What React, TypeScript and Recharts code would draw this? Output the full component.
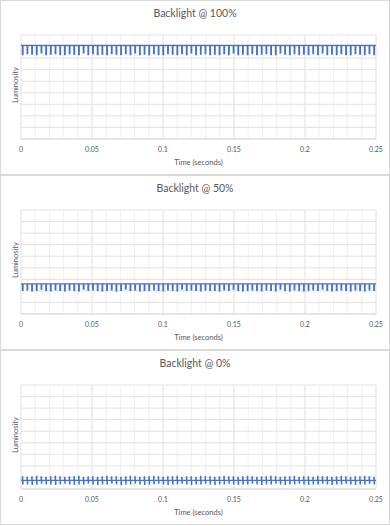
import React from "react";
import { LineChart, Line, XAxis, YAxis, CartesianGrid, ReferenceLine } from "recharts";

// sample times (seconds), shared by the three captures
const time = [
  0,
  0.001, 0.0012, 0.0014, 0.0043, 0.0045, 0.0047, 0.0076, 0.0078, 0.008, 0.0109, 0.0111, 0.0113,
  0.0142, 0.0144, 0.0146, 0.0175, 0.0177, 0.0179, 0.0208, 0.021, 0.0212, 0.0241, 0.0243, 0.0245,
  0.0274, 0.0276, 0.0278, 0.0307, 0.0309, 0.0311, 0.034, 0.0342, 0.0344, 0.0373, 0.0375, 0.0377,
  0.0406, 0.0408, 0.041, 0.0439, 0.0441, 0.0443, 0.0472, 0.0474, 0.0476, 0.0505, 0.0507, 0.0509,
  0.0538, 0.054, 0.0542, 0.0571, 0.0573, 0.0575, 0.0604, 0.0606, 0.0608, 0.0637, 0.0639, 0.0641,
  0.067, 0.0672, 0.0674, 0.0703, 0.0705, 0.0707, 0.0736, 0.0738, 0.074, 0.0769, 0.0771, 0.0773,
  0.0802, 0.0804, 0.0806, 0.0835, 0.0837, 0.0839, 0.0868, 0.087, 0.0872, 0.0901, 0.0903, 0.0905,
  0.0934, 0.0936, 0.0938, 0.0967, 0.0969, 0.0971, 0.1, 0.1002, 0.1004, 0.1033, 0.1035, 0.1037,
  0.1066, 0.1068, 0.107, 0.1099, 0.1101, 0.1103, 0.1132, 0.1134, 0.1136, 0.1165, 0.1167, 0.1169,
  0.1198, 0.12, 0.1202, 0.1231, 0.1233, 0.1235, 0.1264, 0.1266, 0.1268, 0.1297, 0.1299, 0.1301,
  0.133, 0.1332, 0.1334, 0.1363, 0.1365, 0.1367, 0.1396, 0.1398, 0.14, 0.1429, 0.1431, 0.1433,
  0.1462, 0.1464, 0.1466, 0.1495, 0.1497, 0.1499, 0.1528, 0.153, 0.1532, 0.1561, 0.1563, 0.1565,
  0.1594, 0.1596, 0.1598, 0.1627, 0.1629, 0.1631, 0.166, 0.1662, 0.1664, 0.1693, 0.1695, 0.1697,
  0.1726, 0.1728, 0.173, 0.1759, 0.1761, 0.1763, 0.1792, 0.1794, 0.1796, 0.1825, 0.1827, 0.1829,
  0.1858, 0.186, 0.1862, 0.1891, 0.1893, 0.1895, 0.1924, 0.1926, 0.1928, 0.1957, 0.1959, 0.1961,
  0.199, 0.1992, 0.1994, 0.2023, 0.2025, 0.2027, 0.2056, 0.2058, 0.206, 0.2089, 0.2091, 0.2093,
  0.2122, 0.2124, 0.2126, 0.2155, 0.2157, 0.2159, 0.2188, 0.219, 0.2192, 0.2221, 0.2223, 0.2225,
  0.2254, 0.2256, 0.2258, 0.2287, 0.2289, 0.2291, 0.232, 0.2322, 0.2324, 0.2353, 0.2355, 0.2357,
  0.2386, 0.2388, 0.239, 0.2419, 0.2421, 0.2423, 0.2452, 0.2454, 0.2456, 0.2485, 0.2487, 0.2489,
  0.25,
];

const lum100 = [
  8.1,
  7.3, 7.3, 8.1, 7.4, 7.4, 8.1, 7.35, 7.35, 8.1, 7.3, 7.3, 8.1,
  7.45, 7.45, 8.1, 7.3, 7.3, 8.1, 7.35, 7.35, 8.1, 7.4, 7.4, 8.1,
  7.3, 7.3, 8.1, 7.3, 7.3, 8.1, 7.4, 7.4, 8.1, 7.35, 7.35, 8.1,
  7.3, 7.3, 8.1, 7.45, 7.45, 8.1, 7.3, 7.3, 8.1, 7.4, 7.4, 8.1,
  7.3, 7.3, 8.1, 7.35, 7.35, 8.1, 7.3, 7.3, 8.1, 7.4, 7.4, 8.1,
  7.35, 7.35, 8.1, 7.3, 7.3, 8.1, 7.4, 7.4, 8.1, 7.3, 7.3, 8.1,
  7.45, 7.45, 8.1, 7.3, 7.3, 8.1, 7.35, 7.35, 8.1, 7.3, 7.3, 8.1,
  7.4, 7.4, 8.1, 7.3, 7.3, 8.1, 7.3, 7.3, 8.1, 7.4, 7.4, 8.1,
  7.35, 7.35, 8.1, 7.3, 7.3, 8.1, 7.4, 7.4, 8.1, 7.3, 7.3, 8.1,
  7.45, 7.45, 8.1, 7.3, 7.3, 8.1, 7.35, 7.35, 8.1, 7.4, 7.4, 8.1,
  7.3, 7.3, 8.1, 7.35, 7.35, 8.1, 7.3, 7.3, 8.1, 7.4, 7.4, 8.1,
  7.3, 7.3, 8.1, 7.45, 7.45, 8.1, 7.3, 7.3, 8.1, 7.35, 7.35, 8.1,
  7.3, 7.3, 8.1, 7.4, 7.4, 8.1, 7.3, 7.3, 8.1, 7.35, 7.35, 8.1,
  7.4, 7.4, 8.1, 7.3, 7.3, 8.1, 7.3, 7.3, 8.1, 7.45, 7.45, 8.1,
  7.35, 7.35, 8.1, 7.3, 7.3, 8.1, 7.4, 7.4, 8.1, 7.3, 7.3, 8.1,
  7.35, 7.35, 8.1, 7.3, 7.3, 8.1, 7.4, 7.4, 8.1, 7.3, 7.3, 8.1,
  7.45, 7.45, 8.1, 7.3, 7.3, 8.1, 7.35, 7.35, 8.1, 7.3, 7.3, 8.1,
  7.4, 7.4, 8.1, 7.3, 7.3, 8.1, 7.3, 7.3, 8.1, 7.4, 7.4, 8.1,
  7.35, 7.35, 8.1, 7.3, 7.3, 8.1, 7.4, 7.4, 8.1, 7.3, 7.3, 8.1,
  8.1,
];

const lum50 = [
  2.6,
  2.05, 2.05, 2.6, 2.1, 2.1, 2.6, 2.0, 2.0, 2.6, 2.05, 2.05, 2.6,
  2.15, 2.15, 2.6, 2.05, 2.05, 2.6, 2.0, 2.0, 2.6, 2.1, 2.1, 2.6,
  2.05, 2.05, 2.6, 2.0, 2.0, 2.6, 2.1, 2.1, 2.6, 2.05, 2.05, 2.6,
  2.0, 2.0, 2.6, 2.15, 2.15, 2.6, 2.05, 2.05, 2.6, 2.1, 2.1, 2.6,
  2.05, 2.05, 2.6, 2.0, 2.0, 2.6, 2.05, 2.05, 2.6, 2.1, 2.1, 2.6,
  2.0, 2.0, 2.6, 2.05, 2.05, 2.6, 2.15, 2.15, 2.6, 2.05, 2.05, 2.6,
  2.1, 2.1, 2.6, 2.0, 2.0, 2.6, 2.05, 2.05, 2.6, 2.05, 2.05, 2.6,
  2.1, 2.1, 2.6, 2.05, 2.05, 2.6, 2.0, 2.0, 2.6, 2.1, 2.1, 2.6,
  2.05, 2.05, 2.6, 2.0, 2.0, 2.6, 2.15, 2.15, 2.6, 2.05, 2.05, 2.6,
  2.1, 2.1, 2.6, 2.05, 2.05, 2.6, 2.0, 2.0, 2.6, 2.1, 2.1, 2.6,
  2.05, 2.05, 2.6, 2.05, 2.05, 2.6, 2.0, 2.0, 2.6, 2.1, 2.1, 2.6,
  2.05, 2.05, 2.6, 2.15, 2.15, 2.6, 2.05, 2.05, 2.6, 2.0, 2.0, 2.6,
  2.05, 2.05, 2.6, 2.1, 2.1, 2.6, 2.05, 2.05, 2.6, 2.0, 2.0, 2.6,
  2.1, 2.1, 2.6, 2.05, 2.05, 2.6, 2.0, 2.0, 2.6, 2.15, 2.15, 2.6,
  2.05, 2.05, 2.6, 2.0, 2.0, 2.6, 2.1, 2.1, 2.6, 2.05, 2.05, 2.6,
  2.0, 2.0, 2.6, 2.05, 2.05, 2.6, 2.1, 2.1, 2.6, 2.05, 2.05, 2.6,
  2.15, 2.15, 2.6, 2.05, 2.05, 2.6, 2.0, 2.0, 2.6, 2.05, 2.05, 2.6,
  2.1, 2.1, 2.6, 2.05, 2.05, 2.6, 2.0, 2.0, 2.6, 2.1, 2.1, 2.6,
  2.05, 2.05, 2.6, 2.0, 2.0, 2.6, 2.1, 2.1, 2.6, 2.05, 2.05, 2.6,
  2.6,
];

const lum0 = [
  0.75,
  1.05, 0.45, 0.75, 1.0, 0.45, 0.75, 1.05, 0.4, 0.75, 1.1, 0.45, 0.75,
  1.05, 0.5, 0.75, 1.0, 0.45, 0.75, 1.05, 0.45, 0.75, 1.1, 0.4, 0.75,
  1.05, 0.45, 0.75, 1.0, 0.5, 0.75, 1.05, 0.45, 0.75, 1.05, 0.4, 0.75,
  1.1, 0.45, 0.75, 1.0, 0.45, 0.75, 1.05, 0.5, 0.75, 1.05, 0.45, 0.75,
  1.0, 0.4, 0.75, 1.05, 0.45, 0.75, 1.1, 0.45, 0.75, 1.05, 0.5, 0.75,
  1.05, 0.45, 0.75, 1.0, 0.4, 0.75, 1.05, 0.45, 0.75, 1.1, 0.45, 0.75,
  1.05, 0.5, 0.75, 1.0, 0.45, 0.75, 1.05, 0.4, 0.75, 1.05, 0.45, 0.75,
  1.1, 0.45, 0.75, 1.05, 0.5, 0.75, 1.0, 0.45, 0.75, 1.05, 0.4, 0.75,
  1.05, 0.45, 0.75, 1.1, 0.45, 0.75, 1.0, 0.5, 0.75, 1.05, 0.45, 0.75,
  1.05, 0.4, 0.75, 1.0, 0.45, 0.75, 1.1, 0.45, 0.75, 1.05, 0.5, 0.75,
  1.05, 0.45, 0.75, 1.0, 0.4, 0.75, 1.05, 0.45, 0.75, 1.1, 0.45, 0.75,
  1.05, 0.5, 0.75, 1.05, 0.45, 0.75, 1.0, 0.4, 0.75, 1.05, 0.45, 0.75,
  1.1, 0.45, 0.75, 1.05, 0.5, 0.75, 1.0, 0.45, 0.75, 1.05, 0.4, 0.75,
  1.05, 0.45, 0.75, 1.1, 0.45, 0.75, 1.05, 0.5, 0.75, 1.0, 0.45, 0.75,
  1.05, 0.4, 0.75, 1.05, 0.45, 0.75, 1.1, 0.45, 0.75, 1.0, 0.5, 0.75,
  1.05, 0.45, 0.75, 1.05, 0.4, 0.75, 1.0, 0.45, 0.75, 1.1, 0.45, 0.75,
  1.05, 0.5, 0.75, 1.05, 0.45, 0.75, 1.0, 0.4, 0.75, 1.05, 0.45, 0.75,
  1.1, 0.45, 0.75, 1.05, 0.5, 0.75, 1.0, 0.45, 0.75, 1.05, 0.4, 0.75,
  1.05, 0.45, 0.75, 1.1, 0.45, 0.75, 1.05, 0.5, 0.75, 1.0, 0.45, 0.75,
  0.75,
];

const titles = ["Backlight @ 100%", "Backlight @ 50%", "Backlight @ 0%"];
const xTicks = [0, 0.05, 0.1, 0.15, 0.2, 0.25];
const xMinor = [
  0.01, 0.02, 0.03, 0.04, 0.06, 0.07, 0.08, 0.09, 0.11, 0.12, 0.13, 0.14,
  0.16, 0.17, 0.18, 0.19, 0.21, 0.22, 0.23, 0.24,
];
const yTicks = [0, 1, 2, 3, 4, 5, 6, 7, 8, 9];

const FONT = "Lato, 'Liberation Sans', sans-serif";
const TEXT = "#595959";

const YLabel = (props: any) => {
  const vb = props.viewBox || {};
  const cx = vb.x + 15;
  const cy = vb.y + vb.height / 2 - 2;
  return (
    <text
      x={cx}
      y={cy}
      transform={`rotate(-90, ${cx}, ${cy})`}
      textAnchor="middle"
      dominantBaseline="middle"
      fontSize={7.5}
      fill={TEXT}
      fontFamily={FONT}
    >
      Luminosity
    </text>
  );
};

const Panel = ({ title, values, top }: { title: string; values: number[]; top: number }) => {
  const data = time.map((t, i) => ({ t, v: values[i] }));
  return (
    <div
      style={{
        position: "absolute",
        left: 0,
        top,
        width: 388,
        height: 173,
        border: "1px solid #d9d9d9",
        background: "#fff",
      }}
    >
      <div
        style={{
          position: "absolute",
          top: 5,
          left: 0,
          width: "100%",
          textAlign: "center",
          fontFamily: FONT,
          fontSize: 10.5,
          lineHeight: "14px",
          color: TEXT,
        }}
      >
        {title}
      </div>
      <LineChart width={388} height={173} data={data} margin={{ top: 34, right: 13, left: 0, bottom: 0 }}>
        <CartesianGrid stroke="#f0f0f0" horizontal={false} verticalValues={xMinor} />
        <CartesianGrid stroke="#dedede" horizontal={false} verticalValues={xTicks} />
        {yTicks.map((y) => (
          <ReferenceLine key={y} y={y} stroke="#e2e2e2" strokeWidth={1} />
        ))}
        <XAxis
          dataKey="t"
          type="number"
          domain={[0, 0.25]}
          ticks={xTicks}
          interval={0}
          height={35}
          tickLine={false}
          axisLine={{ stroke: "#d9d9d9" }}
          tick={{ fontSize: 7, fill: TEXT, fontFamily: FONT }}
          label={{
            value: "Time (seconds)",
            position: "insideBottom",
            offset: 9,
            fontSize: 7.5,
            fill: TEXT,
            fontFamily: FONT,
          }}
        />
        <YAxis
          type="number"
          domain={[0, 9]}
          ticks={yTicks}
          width={20}
          tick={false}
          tickLine={false}
          axisLine={false}
          label={<YLabel />}
        />
        <Line
          type="stepAfter"
          dataKey="v"
          stroke="#4472c4"
          strokeWidth={1.3}
          dot={false}
          isAnimationActive={false}
        />
      </LineChart>
    </div>
  );
};

export default function App() {
  const series = [lum100, lum50, lum0];
  return (
    <div
      style={{
        position: "absolute",
        left: 0,
        top: 0,
        width: 390,
        height: 526,
        overflow: "hidden",
        background: "#fff",
      }}
    >
      {series.map((s, i) => (
        <Panel key={titles[i]} title={titles[i]} values={s} top={i * 175} />
      ))}
    </div>
  );
}
